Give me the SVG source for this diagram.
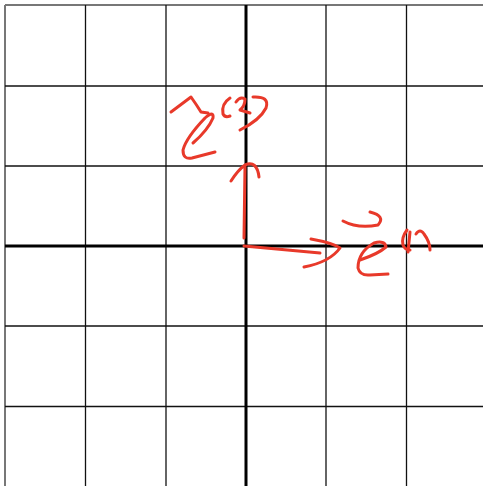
<svg xmlns="http://www.w3.org/2000/svg" width="483" height="487" viewBox="0 0 483 487">
<style>
.g{stroke:#111;stroke-width:1.3;fill:none}
.b{stroke:#777;stroke-width:2;fill:none}
.ax{stroke:#000;stroke-width:3;fill:none}
.ink{stroke:#e8392a;stroke-width:3;fill:none;stroke-linecap:round;stroke-linejoin:round}
</style>
<rect width="483" height="487" fill="#fff"/>
<g id="grid">
<line class="b" x1="5" y1="5" x2="5" y2="486"/>
<line class="b" x1="5" y1="5" x2="483" y2="5"/>
<line class="g" x1="85.5" y1="5" x2="85.5" y2="486"/>
<line class="g" x1="166" y1="5" x2="166" y2="486"/>
<line class="g" x1="326" y1="5" x2="326" y2="486"/>
<line class="g" x1="406.5" y1="5" x2="406.5" y2="486"/>
<line class="g" x1="5" y1="86" x2="483" y2="86"/>
<line class="g" x1="5" y1="166" x2="483" y2="166"/>
<line class="g" x1="5" y1="326" x2="483" y2="326"/>
<line class="g" x1="5" y1="406.5" x2="483" y2="406.5"/>
<line class="ax" x1="246" y1="5" x2="246" y2="486"/>
<line class="ax" x1="5" y1="246" x2="483" y2="246"/>
</g>
<g id="ink">
<path class="ink" d="M244,238 L245,166 M231,181 Q238,170 245,165 Q257,160 259,177"/>
<path class="ink" d="M244,246 L320,253 M311,239 Q333,243 340,248 Q330,262 304,267"/>
<path class="ink" d="M171,112 L191,97 Q196,104 201,112 L208,113"/>
<path class="ink" d="M193,143 Q208,130 213,118 Q214,110 205,118 Q186,138 183,150 Q183,160 192,158 L215,152"/>
<path class="ink" d="M230,98 Q221,104 223,114 Q225,118 230,116"/>
<path class="ink" d="M236,102 Q240,96 245,99 Q245,106 240,110 L250,113"/>
<path class="ink" d="M253,97 Q270,96 266,108 Q260,120 240,130"/>
<path class="ink" d="M343,221 Q358,229 378,225 Q386,216 370,212"/>
<path class="ink" d="M360,260 Q378,254 386,247 Q385,240 374,243 Q358,252 358,268 Q360,276 370,275 L388,274"/>
<path class="ink" d="M407,230 Q401,238 403,245 Q405,250 410,250"/>
<path class="ink" d="M410,232 L408,252"/>
<path class="ink" d="M416,234 Q420,228 424,234 Q430,242 430,250"/>
</g>
</svg>
